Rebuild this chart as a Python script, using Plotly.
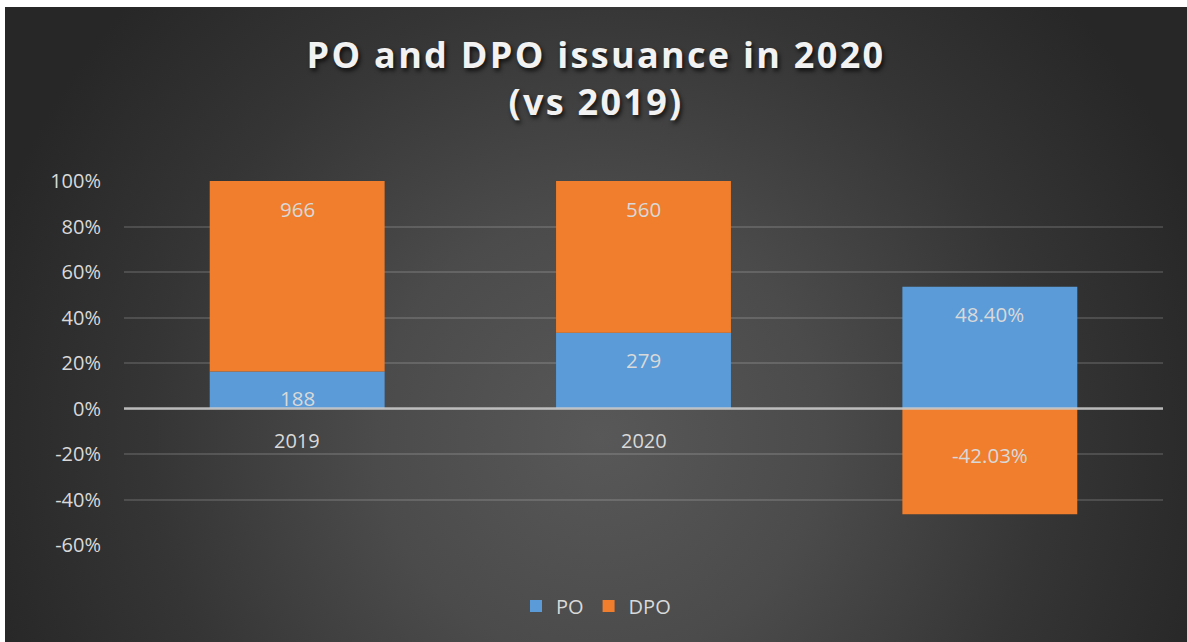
import base64
import plotly.graph_objects as go

# ---- data ----
categories = ["2019", "2020", ""]
po_values = [188, 279, 0.4840]
dpo_values = [966, 560, -0.4203]
po_labels = ["188", "279", "48.40%"]
dpo_labels = ["966", "560", "-42.03%"]
y_tickvals = [-0.6, -0.4, -0.2, 0, 0.2, 0.4, 0.6, 0.8, 1.0]
y_ticktext = ["-60%", "-40%", "-20%", "0%", "20%", "40%", "60%", "80%", "100%"]

# 100%-stacked shares (share of the sum of absolute values)
totals = [abs(p) + abs(d) for p, d in zip(po_values, dpo_values)]
po_share = [p / t for p, t in zip(po_values, totals)]
dpo_share = [d / t for d, t in zip(dpo_values, totals)]
xpos = list(range(len(categories)))

W, H = 1187, 642
L, R, T, B = 124, 24, 181, 97
pw, ph = W - L - R, H - T - B

FONT = "Open Sans"
TXT = "#D9D9D9"

svg = f'''<svg xmlns="http://www.w3.org/2000/svg" width="{W-5}" height="{H-7}" viewBox="0 0 {W-5} {H-7}">
<defs><radialGradient id="g" gradientUnits="userSpaceOnUse" cx="595" cy="430" r="640">
<stop offset="0" stop-color="#585858"/><stop offset="0.35" stop-color="#4b4b4b"/>
<stop offset="0.7" stop-color="#353535"/><stop offset="1" stop-color="#272727"/></radialGradient></defs>
<rect x="0" y="0" width="{W-5}" height="{H-7}" fill="url(#g)"/></svg>'''
bg_uri = "data:image/svg+xml;base64," + base64.b64encode(svg.encode()).decode()

fig = go.Figure()
fig.add_trace(go.Bar(x=xpos, y=po_share, name="PO", marker=dict(color="#5A9BD8", line=dict(width=0)),
                     width=0.505, hoverinfo="skip"))
fig.add_trace(go.Bar(x=xpos, y=dpo_share, name="DPO", marker=dict(color="#F07E2C", line=dict(width=0)),
                     width=0.505, hoverinfo="skip"))

ann = []
for i in range(len(categories)):
    if po_share[i] >= 0:
        ann.append(dict(x=xpos[i], y=po_share[i], text=po_labels[i], yshift=-27))
    if dpo_share[i] >= 0:
        top = max(po_share[i], 0) + dpo_share[i]
        ann.append(dict(x=xpos[i], y=top, text=dpo_labels[i], yshift=-28))
    else:
        ann.append(dict(x=xpos[i], y=dpo_share[i] / 2, text=dpo_labels[i], yshift=6))
for a in ann:
    a.update(xref="x", yref="y", showarrow=False, yanchor="middle",
             font=dict(family=FONT, size=20.5, color=TXT))
for i, c in enumerate(categories):
    if c:
        ann.append(dict(x=xpos[i], y=0, xref="x", yref="y", text=c, showarrow=False,
                        yanchor="middle", yshift=-32, font=dict(family=FONT, size=20, color=TXT)))

fig.update_layout(
    width=W, height=H,
    margin=dict(l=L, r=R, t=T, b=B),
    paper_bgcolor="white", plot_bgcolor="rgba(0,0,0,0)",
    barmode="relative",
    title=dict(text="PO and DPO issuance in 2020<br>(vs 2019)", x=(5 + W) / 2 / W, xanchor="center",
               xref="container", y=1 - 68 / H, yanchor="middle",
               font=dict(family=FONT, size=36, color="#F2F2F2", weight="bold",
                         shadow="2px 3px 4px rgba(0,0,0,0.7)")),
    xaxis=dict(range=[-0.5, 2.5], showticklabels=False, showgrid=False, zeroline=False,
               fixedrange=True),
    yaxis=dict(range=[-0.6, 1.0], tickvals=y_tickvals, ticktext=y_ticktext,
               tickfont=dict(family=FONT, size=20, color=TXT), ticklabelstandoff=22,
               showgrid=True, gridcolor="rgba(255,255,255,0.14)", gridwidth=1.5,
               zeroline=False, showline=False, fixedrange=True),
    legend=dict(orientation="h", x=(5 + W) / 2 / W, xanchor="center", xref="container",
                y=1 - 606 / H, yref="container", yanchor="middle",
                font=dict(family=FONT, size=20, color=TXT), bgcolor="rgba(0,0,0,0)",
                itemwidth=30, traceorder="normal"),
    annotations=ann,
    shapes=[dict(type="line", xref="paper", yref="y", x0=0, x1=1, y0=0, y1=0,
                 line=dict(color="rgba(205,205,205,0.85)", width=2.4), layer="above")],
    images=[dict(source=bg_uri, xref="paper", yref="paper",
                 x=(5 - L) / pw, y=1 + (T - 7) / ph, sizex=(W - 5) / pw, sizey=(H - 7) / ph,
                 xanchor="left", yanchor="top", sizing="stretch", layer="below")],
    showlegend=True,
)

post = """
document.body.style.margin='0px';
document.querySelectorAll('.gtitle').forEach(function(e){e.style.letterSpacing='2.3px';});
"""
fig.write_html("out.html", post_script=post, config={"displayModeBar": False})
